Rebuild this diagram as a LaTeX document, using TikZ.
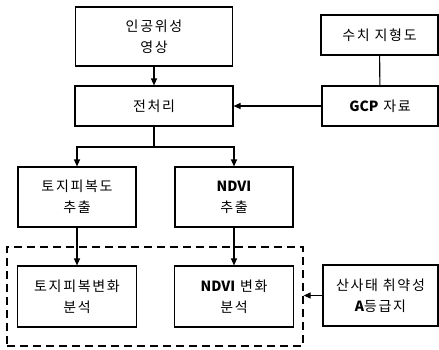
\documentclass[tikz,border=0pt]{standalone}
\usepackage{fontspec}
\setmainfont{Noto Sans CJK KR}[LetterSpace=12]
\newfontfamily\latinfont{Noto Sans CJK KR}
\newcommand{\lat}[1]{{\latinfont\bfseries #1}}
\usetikzlibrary{arrows.meta}
\tikzset{
  box/.style={draw, line width=1.1pt, align=center, inner sep=0pt,
    font=\fontsize{14}{21}\selectfont},
  arr/.style={line width=1.1pt, -{Triangle[length=7pt,width=6pt]}},
  link/.style={line width=1.1pt},
  grpbox/.style={draw, line width=1.3pt, dash pattern=on 8pt off 5pt, inner sep=0pt}
}
\begin{document}
\begin{tikzpicture}[x=1pt,y=-1pt]
\useasboundingbox (0,0) rectangle (439,349);
\node[box, minimum width=157pt, minimum height=59pt] (sat) at (154,36.5) {인공위성\\영상};
\node[box, minimum width=117pt, minimum height=40pt] (dem) at (379.5,35) {수치 지형도};
\node[box, minimum width=158pt, minimum height=40pt] (pre) at (154,106) {전처리};
\node[box, minimum width=116pt, minimum height=40pt] (gcp) at (380,106) {\lat{GCP} 자료};
\node[box, minimum width=118pt, minimum height=60pt] (lc) at (77,197) {토지피복도\\추출};
\node[box, minimum width=118pt, minimum height=60pt] (ndvi) at (234,197) {\lat{NDVI}\\추출};
\node[grpbox, minimum width=296pt, minimum height=99pt] (grp) at (155,296.5) {};
\node[box, minimum width=119pt, minimum height=61pt] (lcc) at (77,296.5) {토지피복변화\\분석};
\node[box, minimum width=119pt, minimum height=61pt] (ndvic) at (234,296.5) {\lat{NDVI} 변화\\분석};
\node[box, minimum width=115pt, minimum height=61pt] (land) at (380.5,295.5) {산사태 취약성\\\lat{A}등급지};
\coordinate (split) at (154,147);
\draw[arr] (sat) -- (pre);
\draw[link] (dem) -- (gcp);
\draw[arr] (gcp) -- (pre);
\draw[link] (pre.south) -- (split);
\draw[arr] (split) -| (lc.north);
\draw[arr] (split) -| (ndvi.north);
\draw[arr] (lc) -- (lcc);
\draw[arr] (ndvi) -- (ndvic);
\draw[arr] (land.west) -- (land.west -| grp.east);
\end{tikzpicture}
\end{document}
